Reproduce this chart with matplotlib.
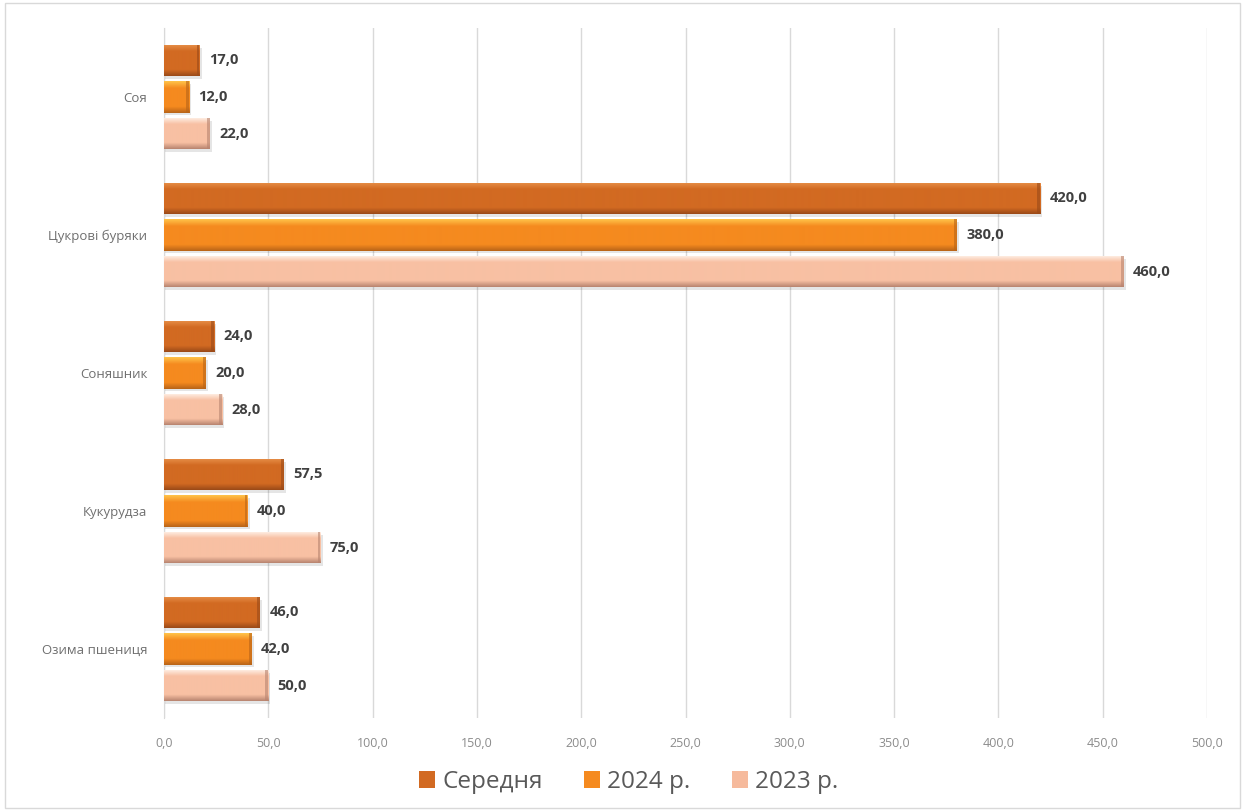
import numpy as np
import matplotlib.pyplot as plt
from matplotlib.colors import to_rgb
from matplotlib.patches import Rectangle

categories = ["Соя", "Цукрові буряки", "Соняшник", "Кукурудза", "Озима пшениця"]
series_names = ["Середня", "2024 р.", "2023 р."]
avg_vals = [17.0, 420.0, 24.0, 57.5, 46.0]
y2024_vals = [12.0, 380.0, 20.0, 40.0, 42.0]
y2023_vals = [22.0, 460.0, 28.0, 75.0, 50.0]
x_ticks = [0, 50, 100, 150, 200, 250, 300, 350, 400, 450, 500]

series_vals = [avg_vals, y2024_vals, y2023_vals]
base_colors = ["#D26A22", "#F58A1F", "#F6BA9C"]
# (highlight, body, bottom edge) for each series' bevel
bevel_colors = [
    ("#E8914A", "#D26A22", "#9A4A18"),
    ("#FFC44A", "#F58A1F", "#B86418"),
    ("#FFF3EA", "#F8C0A3", "#B88470"),
]

plt.rcParams['font.family'] = ['Open Sans', 'DejaVu Sans']

fig = plt.figure(figsize=(12.45, 8.11), dpi=100)
ax = fig.add_axes([164 / 1245, 1 - 718 / 811, (1207 - 164) / 1245, (718 - 28) / 811])

n_cat = len(categories)
bar_h = 0.225
pitch = 0.265


def fmt(v):
    return f"{v:.1f}".replace(".", ",")


def bevel_bar(ax, x, y, w, h, cols):
    top, mid, bot = (np.array(to_rgb(c)) for c in cols)
    t = np.linspace(0, 1, 96)[:, None]
    col = np.where(t < 0.22, top + (mid - top) * (t / 0.22),
                   np.where(t < 0.8, mid,
                            mid + (bot - mid) * ((t - 0.8) / 0.2)))
    img = col.reshape(96, 1, 3)
    # soft shadow under the bar
    sh = Rectangle((x, y - h / 2 + 0.02), w + 1.0, h, facecolor="#000000",
                   alpha=0.10, edgecolor="none", zorder=2)
    ax.add_patch(sh)
    rect = Rectangle((x, y - h / 2), w, h, facecolor="none", edgecolor="none", zorder=3)
    ax.add_patch(rect)
    im = ax.imshow(img, extent=(x, x + w, y + h / 2, y - h / 2), aspect="auto",
                   zorder=3, interpolation="bilinear")
    im.set_clip_path(rect)
    # darker right end
    cap_w = min(w * 0.12, 1.4)
    cap = Rectangle((x + w - cap_w, y - h / 2), cap_w, h, facecolor=bot,
                    alpha=0.6, edgecolor="none", zorder=4)
    ax.add_patch(cap)


for i, cat in enumerate(categories):
    for j, vals in enumerate(series_vals):
        yc = i + (j - 1) * pitch
        bevel_bar(ax, 0, yc, vals[i], bar_h, bevel_colors[j])
        ax.text(vals[i] + 4.5, yc, fmt(vals[i]), va="center", ha="left",
                fontsize=10.5, fontweight="bold", color="#404040", zorder=5)

ax.set_xlim(0, 500)
ax.set_ylim(n_cat - 0.5, -0.5)
ax.set_xticks(x_ticks)
ax.set_xticklabels([fmt(v) for v in x_ticks], fontsize=9, color="#8C8C8C")
ax.set_yticks(range(n_cat))
ax.set_yticklabels(categories, fontsize=9.5, color="#6F6F6F")
ax.tick_params(axis="both", length=0)
ax.tick_params(axis="x", pad=14)
ax.tick_params(axis="y", pad=12)
ax.grid(axis="x", color="#D9D9D9", linewidth=1)
ax.set_axisbelow(True)
for s in ["top", "right", "bottom"]:
    ax.spines[s].set_visible(False)
ax.spines["left"].set_color("#D9D9D9")

handles = [Rectangle((0, 0), 1, 1, facecolor=c, edgecolor="none") for c in base_colors]
fig.legend(handles, series_names, loc="center", bbox_to_anchor=(0.505, 1 - 782 / 811),
           ncol=3, frameon=False, fontsize=17.5, labelcolor="#595959",
           handlelength=0.65, handleheight=0.65, handletextpad=0.3, columnspacing=1.7)

# outer chart border
fig.patches.append(Rectangle((0.004, 0.004), 0.992, 0.992, transform=fig.transFigure,
                             fill=False, edgecolor="#D9D9D9", linewidth=1))

fig.savefig("out.png", dpi=100)
